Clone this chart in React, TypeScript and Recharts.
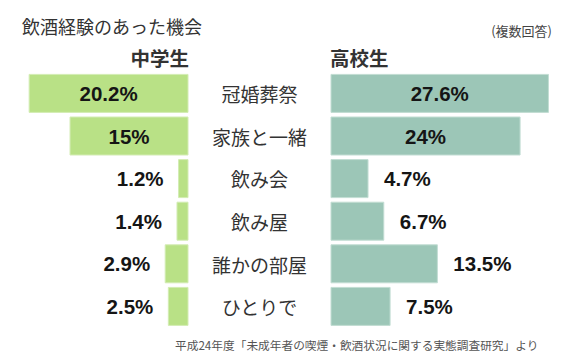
import { BarChart, Bar, XAxis, YAxis, LabelList } from 'recharts';

const categories = ['冠婚葬祭', '家族と一緒', '飲み会', '飲み屋', '誰かの部屋', 'ひとりで'];
const juniorHigh = [20.2, 15, 1.2, 1.4, 2.9, 2.5];
const highSchool = [27.6, 24, 4.7, 6.7, 13.5, 7.5];

const data = categories.map((cat, i) => ({ cat, jh: juniorHigh[i], hs: highSchool[i] }));

const GREEN = '#b9e186';
const TEAL = '#9cc6b7';
const JP = '"Noto Sans CJK JP", "Noto Sans", sans-serif';
const NUM = '"Liberation Sans", Arial, sans-serif';
const CAT_CENTER = 259.5;

function makeLabel(side: 'left' | 'right') {
  return (props: any) => {
    const vb = props.viewBox || props;
    const x0 = Number(vb.x);
    const w = Number(vb.width);
    const left = Math.min(x0, x0 + w);
    const right = Math.max(x0, x0 + w);
    const cy = Number(vb.y) + Number(vb.height) / 2;
    const v = Number(props.value);
    let tx = (left + right) / 2;
    let anchor: 'middle' | 'start' | 'end' = 'middle';
    if (v < 14) {
      if (side === 'left') {
        tx = left - 15;
        anchor = 'end';
      } else {
        tx = right + 16;
        anchor = 'start';
      }
    }
    return (
      <text x={tx} y={cy} textAnchor={anchor} dominantBaseline="central"
        fontFamily={NUM} fontWeight="bold" fontSize={20.5} fill="#151515">
        {v + '%'}
      </text>
    );
  };
}

const CatTick = (props: any) => (
  <text x={CAT_CENTER} y={props.y} textAnchor="middle" dominantBaseline="central"
    fontFamily={JP} fontSize={19} fill="#333">
    {props.payload.value}
  </text>
);

export default function App() {
  return (
    <div style={{ position: 'absolute', left: 0, top: 0, width: 565, height: 360, background: '#fff', fontFamily: JP }}>
      <div style={{ position: 'absolute', left: 22, top: 14, fontSize: 18, lineHeight: '24px', color: '#333' }}>
        飲酒経験のあった機会
      </div>
      <div style={{ position: 'absolute', right: 13, top: 22, fontSize: 13, lineHeight: '18px', color: '#444' }}>
        (複数回答)
      </div>
      <div style={{ position: 'absolute', right: 565 - 189, top: 45, fontSize: 19.5, fontWeight: 'bold', lineHeight: '26px', color: '#333' }}>
        中学生
      </div>
      <div style={{ position: 'absolute', left: 330, top: 45, fontSize: 19.5, fontWeight: 'bold', lineHeight: '26px', color: '#333' }}>
        高校生
      </div>

      <div style={{ position: 'absolute', left: 0, top: 0 }}>
        <BarChart width={331} height={360} data={data} layout="vertical"
          margin={{ top: 72.4, right: 0, bottom: 32, left: 15 }}>
          <XAxis type="number" domain={[0, 22]} reversed hide />
          <YAxis type="category" dataKey="cat" orientation="right" width={143}
            axisLine={false} tickLine={false} tick={<CatTick />} />
          <Bar dataKey="jh" fill={GREEN} stroke="#d3ecb3" strokeWidth={1} barSize={38} isAnimationActive={false}>
            <LabelList dataKey="jh" content={makeLabel('left')} />
          </Bar>
        </BarChart>
      </div>

      <div style={{ position: 'absolute', left: 320, top: 0 }}>
        <BarChart width={245} height={360} data={data} layout="vertical"
          margin={{ top: 72.4, right: 13.4, bottom: 32, left: 11 }}>
          <XAxis type="number" domain={[0, 28]} hide />
          <YAxis type="category" dataKey="cat" hide />
          <Bar dataKey="hs" fill={TEAL} stroke="#c2ddd3" strokeWidth={1} barSize={38} isAnimationActive={false}>
            <LabelList dataKey="hs" content={makeLabel('right')} />
          </Bar>
        </BarChart>
      </div>

      <div style={{ position: 'absolute', left: 175, top: 336, fontSize: 11.7, lineHeight: '18px', color: '#555', whiteSpace: 'nowrap' }}>
        平成24年度「未成年者の喫煙・飲酒状況に関する実態調査研究」より
      </div>
    </div>
  );
}
